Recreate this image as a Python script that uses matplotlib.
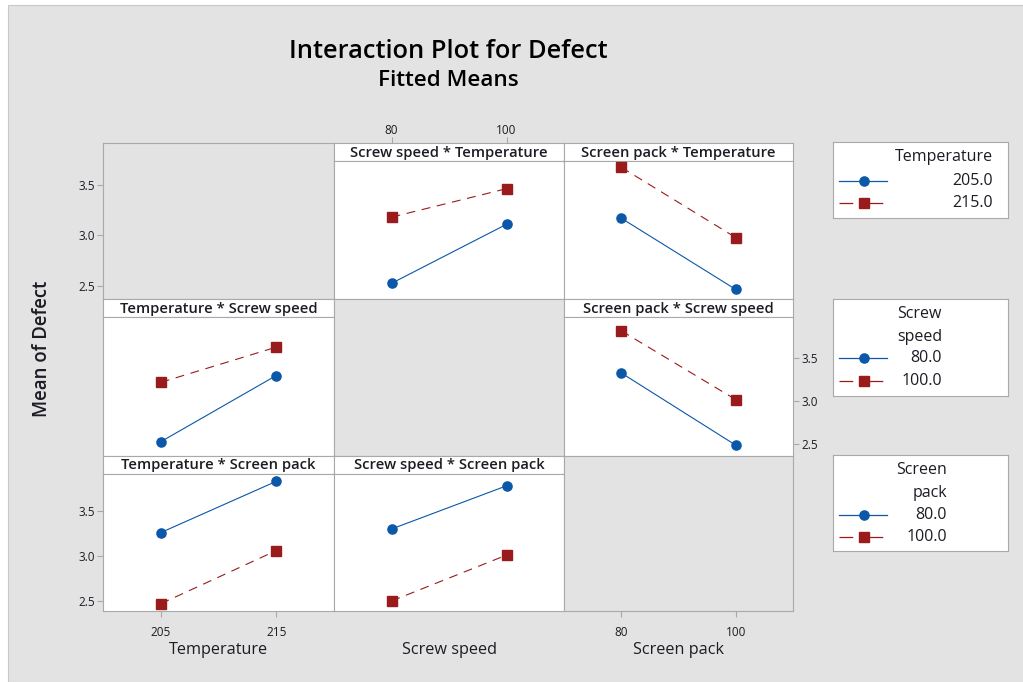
import matplotlib
matplotlib.use("Agg")
import matplotlib.pyplot as plt
from matplotlib.patches import Rectangle

# ---- factor levels ----
factor_names = ["Temperature", "Screw speed", "Screen pack"]
temperature_levels = [205, 215]
screw_speed_levels = [80, 100]
screen_pack_levels = [80, 100]
levels = [temperature_levels, screw_speed_levels, screen_pack_levels]

# ---- fitted means of Defect ----
# row 1: traced by Temperature (205, 215)
speed_by_temp_205 = [2.53, 3.11]
speed_by_temp_215 = [3.18, 3.46]
pack_by_temp_205 = [3.17, 2.47]
pack_by_temp_215 = [3.67, 2.98]
# row 2: traced by Screw speed (80, 100)
temp_by_speed_80 = [2.53, 3.30]
temp_by_speed_100 = [3.22, 3.63]
pack_by_speed_80 = [3.33, 2.49]
pack_by_speed_100 = [3.82, 3.02]
# row 3: traced by Screen pack (80, 100)
temp_by_pack_80 = [3.26, 3.83]
temp_by_pack_100 = [2.47, 3.06]
speed_by_pack_80 = [3.30, 3.78]
speed_by_pack_100 = [2.50, 3.01]

y_ticks = [2.5, 3.0, 3.5]

# (row, col) -> (first traced level series, second traced level series)
panels = {
    (0, 1): (speed_by_temp_205, speed_by_temp_215),
    (0, 2): (pack_by_temp_205, pack_by_temp_215),
    (1, 0): (temp_by_speed_80, temp_by_speed_100),
    (1, 2): (pack_by_speed_80, pack_by_speed_100),
    (2, 0): (temp_by_pack_80, temp_by_pack_100),
    (2, 1): (speed_by_pack_80, speed_by_pack_100),
}

# ---- styling ----
FONT = ["Open Sans", "DejaVu Sans"]
plt.rcParams["font.family"] = FONT
BG = "#e3e3e3"
EDGE = "#a9a9a9"
TXT = "#1c1c24"
BLUE = "#0b57a8"
RED = "#991b1b"

W, H = 1023, 682
fig = plt.figure(figsize=(W / 100, H / 100), dpi=100)
fig.patch.set_facecolor("white")
fig.patches.append(Rectangle((8 / W, 0), 1, 1 - 5 / H, transform=fig.transFigure,
                             facecolor=BG, edgecolor="#c8c8c8", lw=0.8, zorder=-5))


def box(x0, y0, x1, y1):
    return [x0 / W, 1 - y1 / H, (x1 - x0) / W, (y1 - y0) / H]


def style_spines(ax):
    for s in ax.spines.values():
        s.set_color(EDGE)
        s.set_linewidth(0.8)


col_x = [103, 334, 564, 793]
row_top = [143, 298.7, 455.5]
row_bot = [298.7, 455.5, 611]
strip_h = 18
row_ylim = [(2.379, 3.732), (2.370, 3.984), (2.389, 3.917)]


def xlim_for(lv):
    d = lv[1] - lv[0]
    return lv[0] - d / 2, lv[1] + d / 2


def draw_series(ax, xs, first, second):
    ax.plot(xs, first, color=BLUE, lw=0.8, marker="o", ms=6.6,
            markerfacecolor=BLUE, markeredgecolor=BLUE, zorder=3)
    line, = ax.plot(xs, second, color=RED, lw=0.8, marker="s", ms=7.4,
                    markerfacecolor=RED, markeredgecolor=RED, zorder=3)
    line.set_dashes((8, 6))


tick_kw = dict(colors=EDGE, labelcolor=TXT, labelsize=8.5, length=4, width=0.8, pad=2)

for r in range(3):
    for c in range(3):
        x0, x1 = col_x[c], col_x[c + 1]
        y0, y1 = row_top[r], row_bot[r]
        if r == c:
            cell = fig.add_axes(box(x0, y0, x1, y1))
            cell.set_facecolor(BG)
            cell.set_xticks([])
            cell.set_yticks([])
            style_spines(cell)
            # transparent scale carrier covering the plotting region of the row
            ax = fig.add_axes(box(x0, y0 + strip_h, x1, y1))
            ax.patch.set_visible(False)
            for s in ax.spines.values():
                s.set_visible(False)
        else:
            st = fig.add_axes(box(x0, y0, x1, y0 + strip_h))
            st.set_facecolor("white")
            st.set_xticks([])
            st.set_yticks([])
            style_spines(st)
            st.text(0.5, 0.45, f"{factor_names[c]} * {factor_names[r]}",
                    transform=st.transAxes, ha="center", va="center",
                    fontsize=10.6, fontweight="semibold", color=TXT)
            if r == 0 and c == 1:
                st.set_xlim(*xlim_for(levels[c]))
                st.set_xticks(levels[c])
                st.xaxis.tick_top()
                st.tick_params(axis="x", **tick_kw)
                st.tick_params(axis="x", pad=0.5)
            ax = fig.add_axes(box(x0, y0 + strip_h, x1, y1))
            ax.set_facecolor("white")
            style_spines(ax)
            a, b = panels[(r, c)]
            draw_series(ax, levels[c], a, b)
        ax.set_xlim(*xlim_for(levels[c]))
        ax.set_ylim(*row_ylim[r])
        ax.set_xticks([])
        ax.set_yticks([])
        # alternating tick placement
        if r == 2 and c in (0, 2):
            ax.set_xticks(levels[c])
            ax.tick_params(axis="x", **tick_kw)
            ax.tick_params(axis="x", pad=7)
        if c == 0 and r in (0, 2):
            ax.set_yticks(y_ticks)
            ax.set_yticklabels([f"{v:.1f}" for v in y_ticks])
            ax.tick_params(axis="y", **tick_kw)
        if c == 2 and r == 1:
            ax.yaxis.tick_right()
            ax.set_yticks(y_ticks)
            ax.set_yticklabels([f"{v:.1f}" for v in y_ticks])
            ax.tick_params(axis="y", **tick_kw)

# axis titles
for c, name in enumerate(factor_names):
    xc = (col_x[c] + col_x[c + 1]) / 2
    fig.text(xc / W, 1 - 650 / H, name, ha="center", va="center",
             fontsize=11.7, color=TXT)
fig.text(42 / W, 1 - 349 / H, "Mean of Defect", rotation=90, ha="center",
         va="center", fontsize=13.4, fontweight="semibold", color=TXT)

# titles
fig.text(448 / W, 1 - 51 / H, "Interaction Plot for Defect", ha="center",
         va="center", fontsize=18.3, fontweight="semibold", color="black")
fig.text(448 / W, 1 - 81 / H, "Fitted Means", ha="center", va="center",
         fontsize=16.2, fontweight="semibold", color="black")

# legends: one per traced factor
legend_boxes = [(833, 142, 1008, 218), (833, 299, 1008, 396), (833, 455, 1008, 551)]
legend_headers = [["Temperature"], ["Screw", "speed"], ["Screen", "pack"]]
legend_header_y = [[157], [314, 337], [470, 493]]
legend_entry_y = [[181, 203], [358, 381], [515, 537]]
legend_right = [993, 942, 947]
legend_levels = [temperature_levels, screw_speed_levels, screen_pack_levels]

for i in range(3):
    lx0, ly0, lx1, ly1 = legend_boxes[i]
    lg = fig.add_axes(box(lx0, ly0, lx1, ly1))
    lg.set_xlim(lx0, lx1)
    lg.set_ylim(ly1, ly0)
    lg.set_facecolor("white")
    lg.set_xticks([])
    lg.set_yticks([])
    style_spines(lg)
    for txt, ty in zip(legend_headers[i], legend_header_y[i]):
        lg.text(legend_right[i], ty, txt, ha="right", va="center",
                fontsize=11.5, color=TXT)
    for k, (lv, ty) in enumerate(zip(legend_levels[i], legend_entry_y[i])):
        if k == 0:
            lg.plot([839, 887], [ty, ty], color=BLUE, lw=0.9)
            lg.plot([864], [ty], marker="o", ms=6.6, color=BLUE)
        else:
            ln, = lg.plot([839, 887], [ty, ty], color=RED, lw=0.9)
            ln.set_dashes((11, 13))
            lg.plot([864], [ty], marker="s", ms=7.4, color=RED)
        lg.text(legend_right[i], ty, f"{lv:.1f}", ha="right", va="center",
                fontsize=11.5, color=TXT)

fig.savefig("out.png", dpi=100, facecolor=fig.get_facecolor())
